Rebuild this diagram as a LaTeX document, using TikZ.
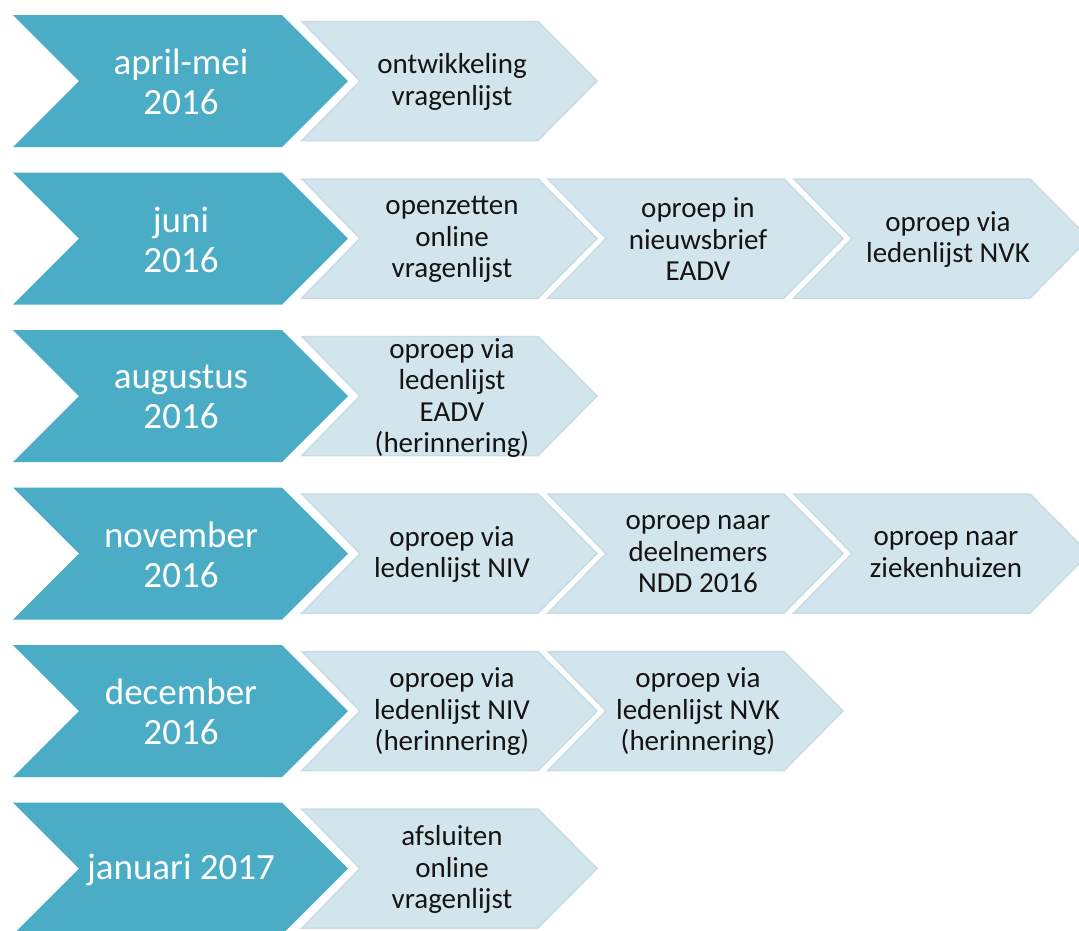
\documentclass[tikz,border=0pt]{standalone}
\usepackage{fontspec}
\setmainfont{Carlito}
\definecolor{teal}{HTML}{4BACC6}
\definecolor{pale}{HTML}{D3E5EC}
\definecolor{paleedge}{HTML}{C7DCE5}
\definecolor{ink}{HTML}{141414}
\tikzset{
  bigshape/.style={fill=teal, draw=none},
  smallshape/.style={fill=pale, draw=paleedge, line width=1.5pt, line join=miter},
  bigtxt/.style={text=white, align=center, inner sep=0pt, font=\fontsize{37}{40}\selectfont},
  smalltxt/.style={text=ink, align=center, inner sep=0pt, font=\fontsize{29}{31.5}\selectfont}
}
\newcommand{\bigchev}[1]{%
  \path[bigshape] (13,#1-66) -- (282,#1-66) -- (348,#1) -- (282,#1+66) -- (13,#1+66) -- (79,#1) -- cycle;}
\newcommand{\smallchev}[2]{%
  \path[smallshape] (#1,#2-59.5) -- (#1+236,#2-59.5) -- (#1+295,#2) -- (#1+236,#2+59.5) -- (#1,#2+59.5) -- (#1+58,#2) -- cycle;}
\begin{document}
\begin{tikzpicture}[x=1pt,y=-1pt]
\path[use as bounding box] (0,0) rectangle (1079,930);
\clip (0,0) rectangle (1079,930);
% shapes
\bigchev{81}
\smallchev{302}{81}
\bigchev{238.5}
\smallchev{302}{238.5}
\smallchev{548}{238.5}
\smallchev{794}{238.5}
\bigchev{396}
\smallchev{302}{396}
\bigchev{553.5}
\smallchev{302}{553.5}
\smallchev{548}{553.5}
\smallchev{794}{553.5}
\bigchev{711}
\smallchev{302}{711}
\smallchev{548}{711}
\bigchev{868.5}
\smallchev{302}{868.5}
% texts
\node[bigtxt] (m1) at (181,82) {april-mei\\2016};
\node[smalltxt] (a1) at (452,82) {ontwikkeling\\vragenlijst};
\node[bigtxt] (m2) at (181,239.5) {juni\\2016};
\node[smalltxt] (a2) at (452,239.5) {openzetten\\online\\vragenlijst};
\node[smalltxt] (b2) at (698,239.5) {oproep in\\nieuwsbrief\\EADV};
\node[smalltxt] (c2) at (948,239.5) {oproep via\\ledenlijst NVK};
\node[bigtxt] (m3) at (181,397) {augustus\\2016};
\node[smalltxt] (a3) at (452,398) {oproep via\\ledenlijst\\EADV\\(herinnering)};
\node[bigtxt] (m4) at (181,554.5) {november\\2016};
\node[smalltxt] (a4) at (452,554.5) {oproep via\\ledenlijst NIV};
\node[smalltxt] (b4) at (698,554.5) {oproep naar\\deelnemers\\NDD 2016};
\node[smalltxt] (c4) at (946,554.5) {oproep naar\\ziekenhuizen};
\node[bigtxt] (m5) at (181,712) {december\\2016};
\node[smalltxt] (a5) at (452,712) {oproep via\\ledenlijst NIV\\(herinnering)};
\node[smalltxt] (b5) at (698,712) {oproep via\\ledenlijst NVK\\(herinnering)};
\node[bigtxt] (m6) at (181,869.5) {januari 2017};
\node[smalltxt] (a6) at (452,869.5) {afsluiten\\online\\vragenlijst};
\end{tikzpicture}
\end{document}
